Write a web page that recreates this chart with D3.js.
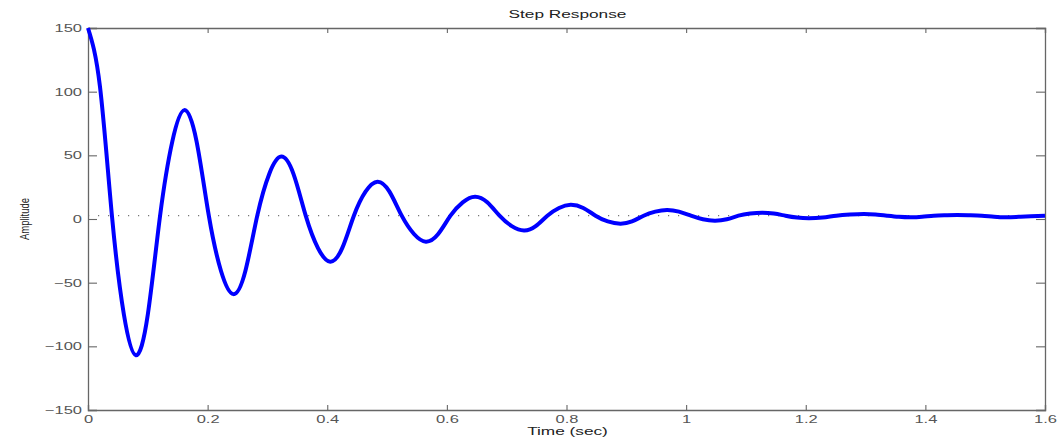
<!DOCTYPE html>
<html>
<head>
<meta charset="utf-8">
<script src="https://cdn.jsdelivr.net/npm/d3@7"></script>
<style>
  body { margin: 0; background: #fff; }
  svg text { font-family: "Liberation Sans", Arial, sans-serif; }
</style>
</head>
<body>
<svg id="chart" width="1061" height="437"></svg>
<script>
'use strict';

// values
var timeSec = [0, 0.020, 0.040, 0.060, 0.080, 0.100, 0.1205, 0.141, 0.161, 0.1815,
	0.202, 0.2225, 0.243, 0.263, 0.283, 0.303, 0.323, 0.3435, 0.364, 0.3845,
	0.405, 0.425, 0.4445, 0.464, 0.484, 0.504, 0.5245, 0.545, 0.565, 0.5855,
	0.606, 0.6265, 0.647, 0.6675, 0.688, 0.7085, 0.729, 0.7485, 0.768, 0.7875,
	0.807, 0.828, 0.8485, 0.869, 0.890, 0.9095, 0.929, 0.9485, 0.968, 0.988,
	1.008, 1.028, 1.048, 1.068, 1.0875, 1.107, 1.127, 1.1465, 1.166, 1.1855,
	1.205, 1.228, 1.251, 1.274, 1.297, 1.3165, 1.336, 1.3555, 1.375, 1.3945,
	1.414, 1.4335, 1.453, 1.474, 1.4945, 1.515, 1.536, 1.556, 1.576, 1.6];
var amplitude = [150, 104, 2.6, -75, -107, -75, 2.6, 61, 85.5, 61,
	2.6, -41, -59, -41, 2.6, 35.4, 49, 35.4, 2.6, -22.9,
	-33.5, -22.9, 2.6, 21.5, 29.3, 21.5, 2.6, -11.8, -17.8, -11.8,
	2.6, 13.1, 17.5, 13.1, 2.6, -5.6, -9, -5.6, 2.6, 8.7,
	11.2, 8.7, 2.6, -1.9, -3.7, -1.9, 2.6, 5.8, 7.1, 5.8,
	2.6, -0.2, -1.3, -0.2, 2.6, 4.3, 5.0, 4.3, 2.6, 1.1,
	0.5, 1.1, 2.6, 3.5, 3.9, 3.5, 2.6, 1.7, 1.3, 1.7,
	2.6, 3.0, 3.2, 3.0, 2.6, 1.7, 1.3, 1.7, 2.1, 2.6];
var steadyState = 2.6;
var xTicks = [0, 0.2, 0.4, 0.6, 0.8, 1, 1.2, 1.4, 1.6];
var yTicks = [-150, -100, -50, 0, 50, 100, 150];

var margin = {top: 28, right: 16, bottom: 27, left: 88},
	width = 1061 - margin.left - margin.right,
	height = 437 - margin.top - margin.bottom;

var svg = d3.select('#chart')
	.append('g')
	.attr('transform', 'translate(' + margin.left + ',' + margin.top + ')');

var x = d3.scaleLinear().domain([0, 1.6]).range([0, width]);
var y = d3.scaleLinear().domain([-150, 150]).range([height, 0]);

var axisColor = '#666';
var sx = 1.5; // the original figure is stretched sideways, text too

// minus sign like the original labels
function fmt(d) {
	return d < 0 ? '\u2212' + Math.abs(d) : String(d);
}

// dotted steady state line
svg.append('line')
	.attr('x1', x(0)).attr('x2', x(1.6))
	.attr('y1', y(steadyState)).attr('y2', y(steadyState))
	.attr('stroke', '#777')
	.attr('stroke-width', 1.2)
	.attr('stroke-dasharray', '1.2,8.8');

// axes: ticks pointing inward on all four sides, box around
var axisB = d3.axisBottom(x).tickValues(xTicks).tickSize(-5).tickFormat(function(d) { return String(d); });
var axisT = d3.axisTop(x).tickValues(xTicks).tickSize(-5).tickFormat('');
var axisL = d3.axisLeft(y).tickValues(yTicks).tickSize(-9).tickFormat(fmt);
var axisR = d3.axisRight(y).tickValues(yTicks).tickSize(-9).tickFormat('');

function styleAxis(g) {
	g.select('.domain').attr('stroke', axisColor).attr('stroke-width', 1.3);
	g.selectAll('.tick line').attr('stroke', axisColor).attr('stroke-width', 1.1);
	g.selectAll('.tick text')
		.attr('fill', '#555')
		.style('font-size', '11px')
		.attr('transform', 'scale(' + sx + ',1)');
}

var gx = svg.append('g').attr('transform', 'translate(0,' + height + ')').call(axisB).call(styleAxis);
gx.selectAll('.tick text').attr('y', 5).attr('dy', '0.71em');
svg.append('g').call(axisT).call(styleAxis);
var gy = svg.append('g').call(axisL).call(styleAxis);
gy.selectAll('.tick text').attr('x', -6 / sx);
svg.append('g').attr('transform', 'translate(' + width + ',0)').call(axisR).call(styleAxis);

// response curve
var line = d3.line()
	.x(function(d, i) { return x(timeSec[i]); })
	.y(function(d) { return y(d); })
	.curve(d3.curveNatural);

svg.append('path')
	.datum(amplitude)
	.attr('fill', 'none')
	.attr('stroke', '#0000ff')
	.attr('stroke-width', 4)
	.attr('stroke-linejoin', 'round')
	.attr('d', line);

// title and labels
svg.append('text')
	.attr('transform', 'translate(' + (width / 2 + 1) + ',-10) scale(' + sx + ',1)')
	.attr('text-anchor', 'middle')
	.attr('fill', '#222')
	.style('font-size', '11.5px')
	.text('Step Response');

svg.append('text')
	.attr('transform', 'translate(' + (width / 2 + 1) + ',' + (height + 25) + ') scale(' + sx + ',1)')
	.attr('text-anchor', 'middle')
	.attr('fill', '#222')
	.style('font-size', '11.5px')
	.text('Time (sec)');

svg.append('text')
	.attr('transform', 'translate(' + (29 - margin.left) + ',' + y(0) + ') rotate(-90)')
	.attr('text-anchor', 'middle')
	.attr('fill', '#222')
	.style('font-size', '12.5px')
	.attr('textLength', 42)
	.attr('lengthAdjust', 'spacingAndGlyphs')
	.text('Amplitude');
</script>
</body>
</html>
